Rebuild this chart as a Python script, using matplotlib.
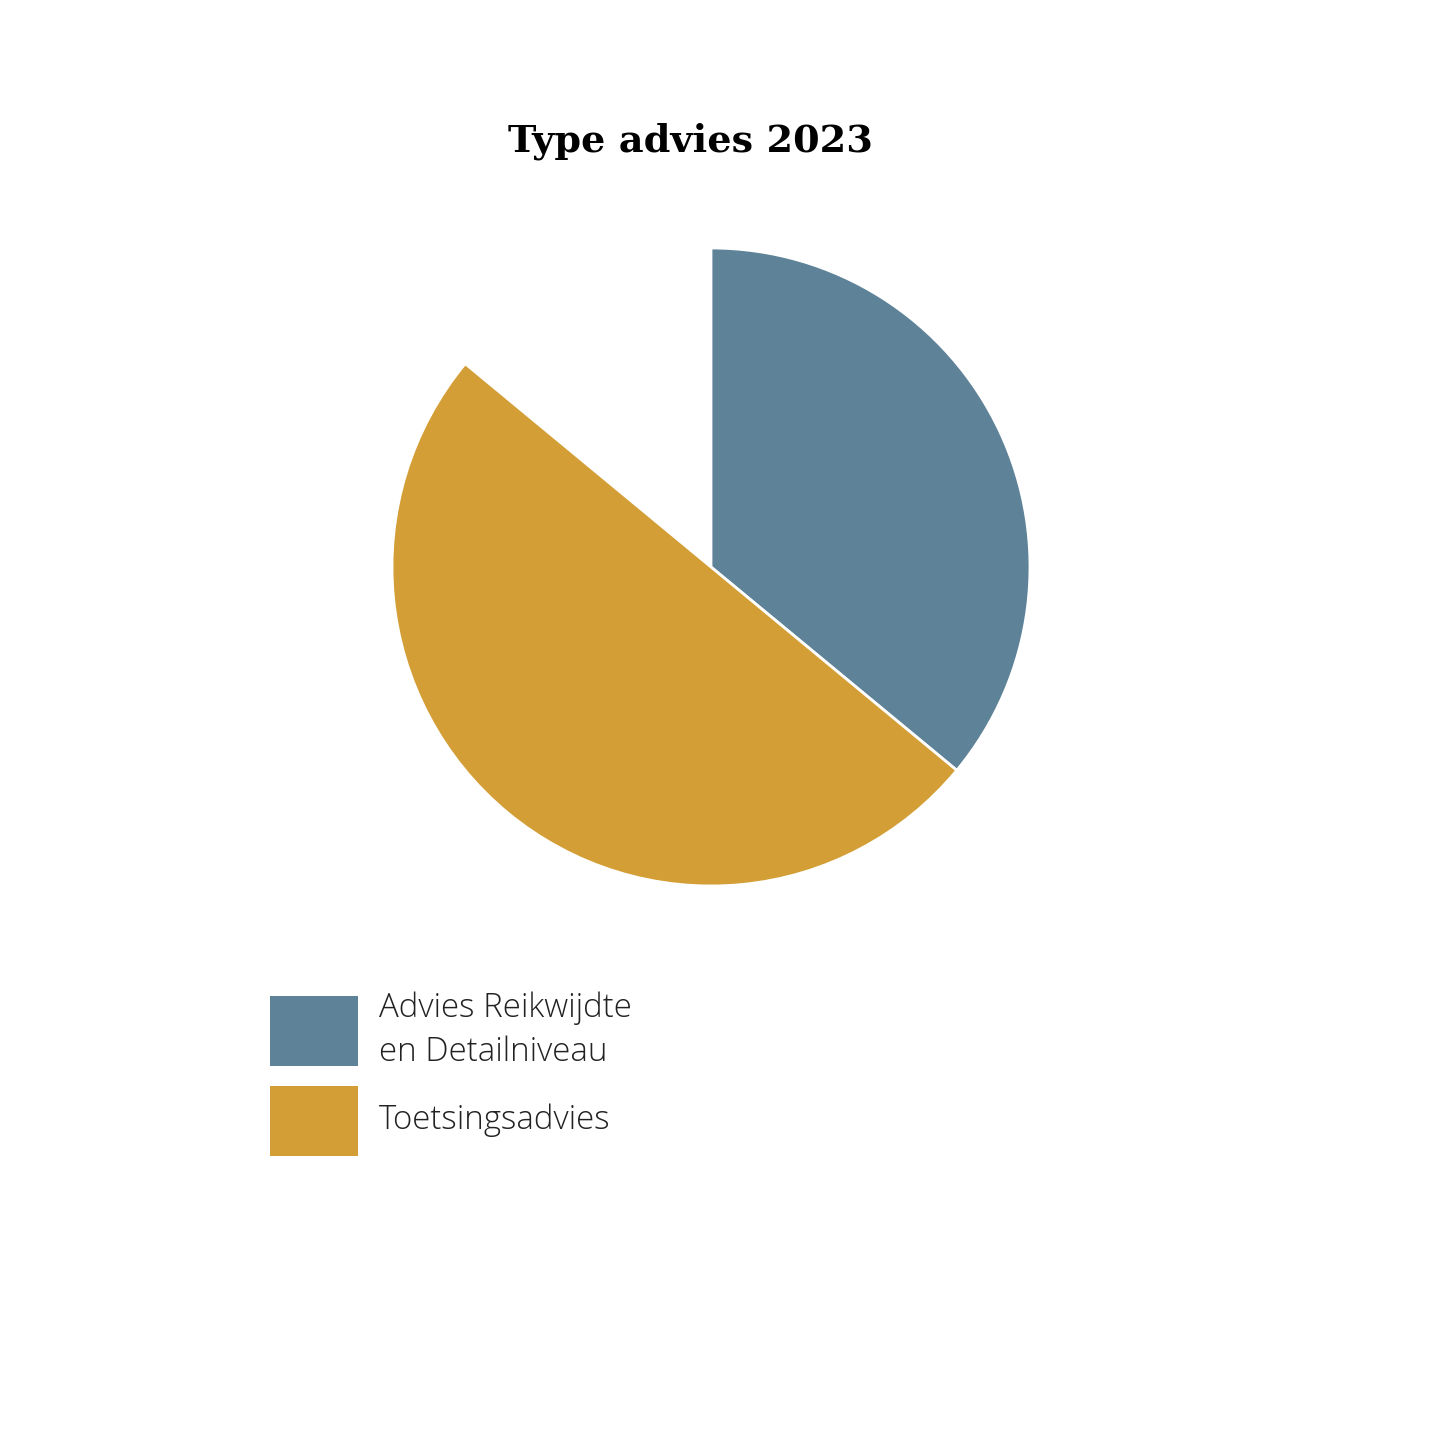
import matplotlib.pyplot as plt
from matplotlib.patches import Rectangle

# data: share of all advices in 2023 (remainder of the circle stays blank)
labels = ['Advies Reikwijdte\nen Detailniveau', 'Toetsingsadvies']
shares = [0.36, 0.50]
colors = ['#5e8399', '#d49e36']

W = H = 1440
fig = plt.figure(figsize=(14.4, 14.4), dpi=100)
fig.patch.set_facecolor('white')

# pie axes, placed so the circle sits at (711, 567) with radius 319 px
cx, cy, r = 711, 567, 319
ax = fig.add_axes([(cx - r) / W, (H - cy - r) / H, 2 * r / W, 2 * r / H])
ax.pie(shares, colors=colors, startangle=90, counterclock=False,
       normalize=False, radius=1,
       wedgeprops=dict(edgecolor='white', linewidth=2))
ax.set_xlim(-1, 1)
ax.set_ylim(-1, 1)
ax.set_aspect('equal')
ax.axis('off')

fig.text(691 / W, 1 - 141 / H, 'Type advies 2023', ha='center', va='center',
         family='DejaVu Serif', weight='bold', fontsize=27.5, color='black')

# legend, drawn by hand
box_x, box_w, box_h = 270, 88, 70
box_tops = [996, 1086]
for lab, col, top in zip(labels, colors, box_tops):
    fig.add_artist(Rectangle((box_x / W, 1 - (top + box_h) / H), box_w / W, box_h / H,
                             transform=fig.transFigure, facecolor=col, edgecolor='none'))
    fig.text(379 / W, 1 - (top + box_h / 2 - 1) / H, lab, ha='left', va='center',
             family='Open Sans', weight='light', fontsize=23.8, color='#222222',
             linespacing=1.42)

fig.savefig('out.png', dpi=100, facecolor='white')
